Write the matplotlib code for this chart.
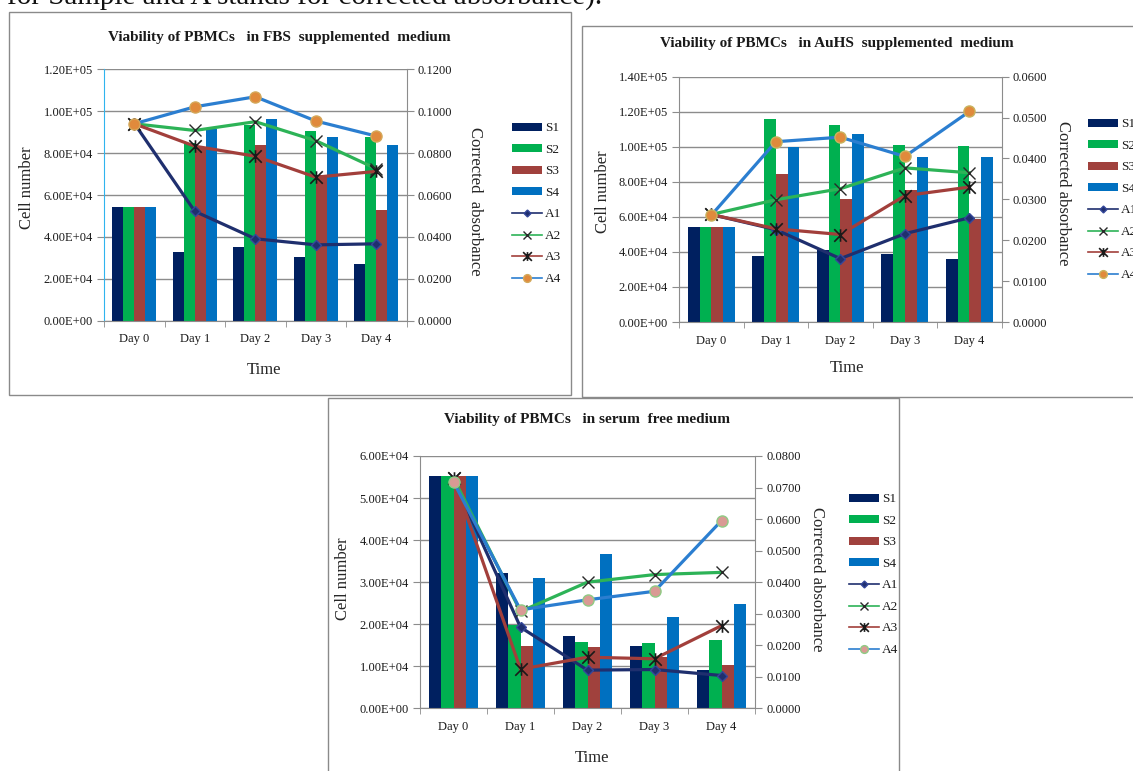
import numpy as np
import matplotlib.pyplot as plt
from matplotlib.patches import Rectangle, Patch
from matplotlib.lines import Line2D
from matplotlib.path import Path
from matplotlib.ticker import FuncFormatter, MultipleLocator

plt.rcParams['font.family'] = ['Liberation Serif', 'DejaVu Serif']

W, H = 1133, 771

days = ['Day 0', 'Day 1', 'Day 2', 'Day 3', 'Day 4']
sample_names = ['S1', 'S2', 'S3', 'S4']
absorb_names = ['A1', 'A2', 'A3', 'A4']

# FBS supplemented medium
fbs_s1 = [54500, 33000, 35100, 30500, 27300]
fbs_s2 = [54500, 85000, 93200, 90500, 87600]
fbs_s3 = [54500, 83000, 83800, 69500, 53000]
fbs_s4 = [54500, 91700, 96500, 87600, 83900]
fbs_a1 = [0.0942, 0.0522, 0.0391, 0.0362, 0.0367]
fbs_a2 = [0.0940, 0.0908, 0.0950, 0.0859, 0.0725]
fbs_a3 = [0.0940, 0.0833, 0.0785, 0.0685, 0.0713]
fbs_a4 = [0.0940, 0.1021, 0.1069, 0.0953, 0.0881]

# AuHS supplemented medium
auhs_s1 = [54500, 37600, 41200, 38600, 35900]
auhs_s2 = [54500, 115900, 112600, 101300, 100500]
auhs_s3 = [54500, 84300, 70300, 75600, 58900]
auhs_s4 = [54500, 100100, 107300, 94000, 94000]
auhs_a1 = [0.0263, 0.0226, 0.0155, 0.0216, 0.0255]
auhs_a2 = [0.0263, 0.0299, 0.0326, 0.0377, 0.0365]
auhs_a3 = [0.0263, 0.0228, 0.0214, 0.0309, 0.0330]
auhs_a4 = [0.0261, 0.0441, 0.0452, 0.0405, 0.0515]

# serum free medium
sf_s1 = [55200, 32200, 17200, 14800, 9100]
sf_s2 = [55200, 19900, 15800, 15600, 16300]
sf_s3 = [55200, 14700, 14500, 12300, 10300]
sf_s4 = [55200, 31000, 36700, 21600, 24900]
sf_a1 = [0.0725, 0.0257, 0.0121, 0.0123, 0.0104]
sf_a2 = [0.0730, 0.0307, 0.0400, 0.0424, 0.0431]
sf_a3 = [0.0730, 0.0124, 0.0162, 0.0157, 0.0262]
sf_a4 = [0.0718, 0.0312, 0.0344, 0.0371, 0.0595]

bar_colors = ['#002060', '#00B050', '#A0413D', '#0070C0']
line_colors = ['#1F2F6E', '#2DB357', '#A23F3B', '#2B7ED0']
grid_gray = '#8C8C8C'
txt = '#1A1A1A'

# asterisk marker: an x with a vertical stroke
star = Path([(0, -1), (0, 1), (-1, -1), (1, 1), (-1, 1), (1, -1)],
            [Path.MOVETO, Path.LINETO] * 3)

fig = plt.figure(figsize=(W / 100, H / 100), dpi=100)


def fx(x):
    return x / W


def fy(y):
    return 1 - y / H


def marker_style(i, face4, edge4, legend=False):
    k = 0.7 if legend else 1.0
    if i == 0:
        return dict(marker='D', markersize=5 * k, mfc=line_colors[0], mec='#34479A')
    if i == 1:
        return dict(marker='x', markersize=9 * k, mec='#2A2A2A', mew=1.0)
    if i == 2:
        return dict(marker=star, markersize=9 * k, mec='#1A1A1A', mew=1.2)
    return dict(marker='o', markersize=8 * k, mfc=face4, mec=edge4, mew=1.0)


def draw_chart(box, plot, title, title_xy, cell_xy, abs_xy, abs_label, time_xy,
               leg_xy, samples, absorb, ymax, ystep, amax, astep,
               face4, edge4, left_color=grid_gray):
    # outer frame of the chart
    fig.patches.append(Rectangle((fx(box[0]), fy(box[3])), (box[2] - box[0]) / W,
                                 (box[3] - box[1]) / H, transform=fig.transFigure,
                                 fill=False, edgecolor='#8A8A8A', lw=1.0))
    l, t, r, b = plot
    ax = fig.add_axes([fx(l), fy(b), (r - l) / W, (b - t) / H])
    x = np.arange(len(days))
    w = 1 / 5.5
    for i, vals in enumerate(samples):
        ax.bar(x + (i - 1.5) * w, vals, width=w, color=bar_colors[i], zorder=2)
    ax.set_xlim(-0.5, 4.5)
    ax.set_ylim(0, ymax)
    ax.yaxis.set_major_locator(MultipleLocator(ystep))
    ax.yaxis.set_major_formatter(FuncFormatter(lambda v, p: f'{v:.2E}'))
    ax.set_axisbelow(True)
    ax.yaxis.grid(True, color=grid_gray, lw=1.0)
    ax.set_xticks(x)
    ax.set_xticklabels(days, fontsize=9, color=txt)
    ax.set_xticks(np.arange(-0.5, 5, 1), minor=True)
    ax.tick_params(axis='x', which='major', length=0, pad=9)
    ax.tick_params(axis='x', which='minor', length=4, color=grid_gray, direction='out')
    ax.tick_params(axis='y', length=5, color=grid_gray, labelsize=9, labelcolor=txt, pad=3)
    ax.spines['top'].set_visible(False)
    ax.spines['right'].set_visible(False)
    ax.spines['bottom'].set_color(grid_gray)
    ax.spines['left'].set_color(left_color)

    ax2 = ax.twinx()
    for i, vals in enumerate(absorb):
        ax2.plot(x, vals, color=line_colors[i], lw=2.3, zorder=3,
                 **marker_style(i, face4, edge4))
    ax2.set_ylim(0, amax)
    ax2.yaxis.set_major_locator(MultipleLocator(astep))
    ax2.yaxis.set_major_formatter(FuncFormatter(lambda v, p: f'{v:.4f}'))
    ax2.tick_params(axis='y', length=5, color=grid_gray, labelsize=9, labelcolor=txt, pad=3)
    for s in ['top', 'left', 'bottom']:
        ax2.spines[s].set_visible(False)
    ax2.spines['right'].set_color(grid_gray)

    fig.text(fx(title_xy[0]), fy(title_xy[1]), title, ha='center', va='center',
             fontsize=11, fontweight='bold', color=txt)
    fig.text(fx(cell_xy[0]), fy(cell_xy[1]), 'Cell number', rotation=90,
             ha='center', va='center', fontsize=12, color='#262626')
    fig.text(fx(abs_xy[0]), fy(abs_xy[1]), abs_label, rotation=270,
             ha='center', va='center', fontsize=12, color='#262626')
    fig.text(fx(time_xy[0]), fy(time_xy[1]), 'Time', ha='center', va='center',
             fontsize=12, color='#262626')

    handles = [Patch(facecolor=c, edgecolor='none') for c in bar_colors]
    for i in range(4):
        handles.append(Line2D([], [], color=line_colors[i], lw=1.2,
                              **marker_style(i, face4, edge4, legend=True)))
    fig.legend(handles, sample_names + absorb_names, loc='center left',
               bbox_to_anchor=(fx(leg_xy[0]), fy(leg_xy[1])), frameon=False,
               fontsize=9.5, borderpad=0, borderaxespad=0, handlelength=2.3,
               handleheight=0.55, handletextpad=0.2, labelspacing=0.72,
               labelcolor=txt)


draw_chart((9.3, 11.7, 571, 395), (104, 69.3, 406.7, 320.7),
           'Viability of PBMCs   in FBS  supplemented  medium', (279.5, 37),
           (27, 188), (475, 201), 'Corrected  absorbance', (264, 370), (511.7, 203.7),
           [fbs_s1, fbs_s2, fbs_s3, fbs_s4], [fbs_a1, fbs_a2, fbs_a3, fbs_a4],
           1.2e5, 2e4, 0.12, 0.02, '#E08A3C', '#D4A85A', left_color='#2FB4EE')

draw_chart((581.7, 25.7, 1150, 396.7), (679, 76.7, 1001.7, 322),
           'Viability of PBMCs   in AuHS  supplemented  medium', (837, 43.5),
           (603, 192), (1063, 193), 'Corrected absorbance', (847, 368), (1087.7, 199.7),
           [auhs_s1, auhs_s2, auhs_s3, auhs_s4], [auhs_a1, auhs_a2, auhs_a3, auhs_a4],
           1.4e5, 2e4, 0.06, 0.01, '#E08A3C', '#C9B35E')

draw_chart((327.7, 398, 899.3, 790), (420, 456, 755, 708.3),
           'Viability of PBMCs   in serum  free medium', (587, 420),
           (343, 579), (816.7, 579), 'Corrected absorbance', (592, 758), (849, 574.7),
           [sf_s1, sf_s2, sf_s3, sf_s4], [sf_a1, sf_a2, sf_a3, sf_a4],
           6e4, 1e4, 0.08, 0.01, '#D99A94', '#8FCB84')

# tail of the sentence above the figures, cut by the page edge
fig.text(fx(7), fy(5), 'for Sample and A stands for corrected absorbance).',
         fontsize=21, va='baseline', ha='left', color='#111111')

fig.savefig('out.png', dpi=100, facecolor='white')
